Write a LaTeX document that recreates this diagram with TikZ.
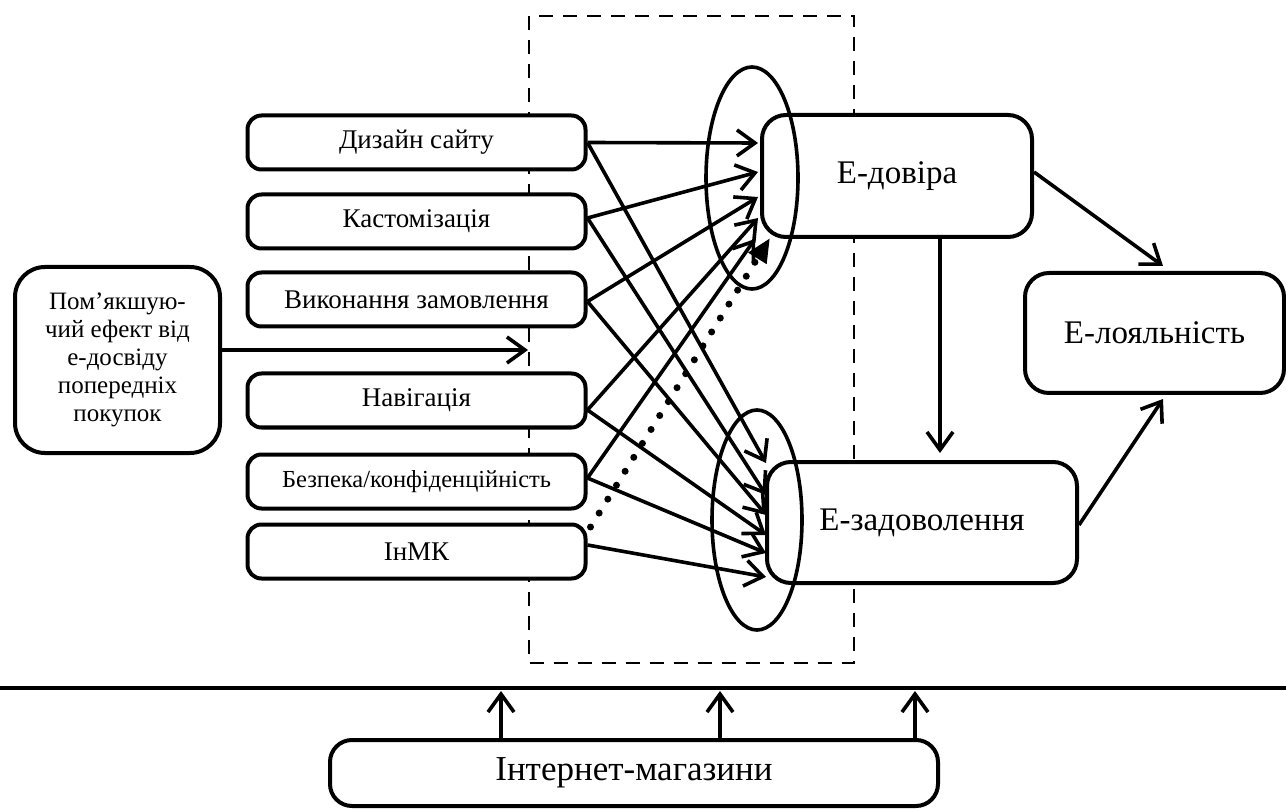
\documentclass[tikz,border=0pt]{standalone}
\usepackage{fontspec}
\setmainfont{Liberation Serif}
\usetikzlibrary{arrows.meta,calc}
\begin{document}
\begin{tikzpicture}[x=1pt,y=-1pt,
  box/.style={draw, line width=4pt, rounded corners=14pt, fill=white, inner sep=0pt, align=center},
  sbox/.style={box, minimum width=338pt, minimum height=54pt, font=\fontsize{27}{30}\selectfont},
  bbox/.style={box, rounded corners=24pt, font=\fontsize{33}{36}\selectfont},
  link/.style={line width=3.6pt, -{Straight Barb[length=18pt,width=26pt]}},
  dotlink/.style={line width=7pt, line cap=round, dash pattern=on 0pt off 16.4pt, -{Triangle[length=24pt,width=20pt]}},
]
\useasboundingbox (0,0) rectangle (1286,810);
% dashed frame
\draw[line width=2.8pt, dash pattern=on 14pt off 10pt] (529,16) rectangle (854,663);
% left factor boxes
\node[sbox] (diz) at (416.5,142.5) {Дизайн сайту};
\node[sbox] (kas) at (416.5,221.5) {Кастомізація};
\node[sbox] (vyk) at (416.5,299.5) {Виконання замовлення};
\node[sbox] (nav) at (416.5,400.5) {Навігація};
\node[sbox, font=\fontsize{24.5}{28}\selectfont] (bez) at (416.5,481.5) {Безпека/конфіденційність};
\node[sbox] (inm) at (416.5,551.5) {ІнМК};
\node[box, rounded corners=30pt, minimum width=205pt, minimum height=186pt, font=\fontsize{25}{28}\selectfont] (pom) at (117.5,360) {Пом’якшую-\\чий ефект від\\е-досвіду\\попередніх\\покупок};
% right boxes
\node[bbox, minimum width=270pt, minimum height=122pt] (dov) at (897,176) {Е-довіра};
\node[bbox, minimum width=310pt, minimum height=121pt] (zad) at (922,522.5) {Е-задоволення};
\node[bbox, minimum width=259pt, minimum height=120pt] (loy) at (1154.5,333) {Е-лояльність};
\node[box, rounded corners=22pt, minimum width=608pt, minimum height=66pt, font=\fontsize{35}{38}\selectfont] (shop) at (634,773) {Інтернет-магазини};
% ellipses
\draw[line width=3.6pt] (752,178) ellipse [x radius=46pt, y radius=111pt];
\draw[line width=3.6pt] (757,520) ellipse [x radius=45pt, y radius=110pt];
% arrows into E-довіра
\draw[link] (diz.east) -- ($(dov.west)+(-2,-33)$);
\draw[link] ($(kas.east)+(0,-3.5)$) -- ($(dov.west)+(-2,-4)$);
\draw[link] ($(vyk.east)+(0,2)$) -- ($(dov.west)+(-2,21)$);
\draw[link] ($(nav.east)+(0,9.5)$) -- ($(dov.west)+(-2,42)$);
\draw[link] ($(bez.east)+(0,-3.5)$) -- ($(dov.west)+(-5,63)$);
\draw[dotlink] ($(inm.east)+(3,-24.5)$) -- ($(dov.west)+(10,62)$);
% arrows into E-задоволення
\draw[link] (diz.east) -- ($(zad.west)+(1,-59.5)$);
\draw[link] ($(kas.east)+(0,-3.5)$) -- ($(zad.west)+(1,-27.5)$);
\draw[link] ($(vyk.east)+(0,2)$) -- ($(zad.west)+(1,-7.5)$);
\draw[link] ($(nav.east)+(0,9.5)$) -- ($(zad.west)+(1,12.5)$);
\draw[link] ($(bez.east)+(0,-3.5)$) -- ($(zad.west)+(1,30.5)$);
\draw[link] ($(inm.east)+(0,-6.5)$) -- ($(zad.west)+(1,54.5)$);
% moderating effect
\coordinate (frameL) at (528,350);
\draw[link] ($(pom.east)+(0,-10)$) -- (frameL);
% right side
\draw[link] ($(dov.east)+(0,-4)$) -- ($(loy.north)+(8.5,-5)$);
\draw[link] ($(zad.east)+(0,2.5)$) -- ($(loy.south)+(8.5,4)$);
\draw[link] ($(dov.south)+(43,0)$) -- ($(zad.north)+(18,-7)$);
% bottom
\coordinate (hl) at (0,688);
\coordinate (hr) at (1286,688);
\draw[line width=4.5pt] (hl) -- (hr);
\draw[link] ($(shop.north)+(-133,0)$) -- ++(0,-47);
\draw[link] ($(shop.north)+(86,0)$) -- ++(0,-47);
\draw[link] ($(shop.north)+(281,0)$) -- ++(0,-47);
\end{tikzpicture}
\end{document}
